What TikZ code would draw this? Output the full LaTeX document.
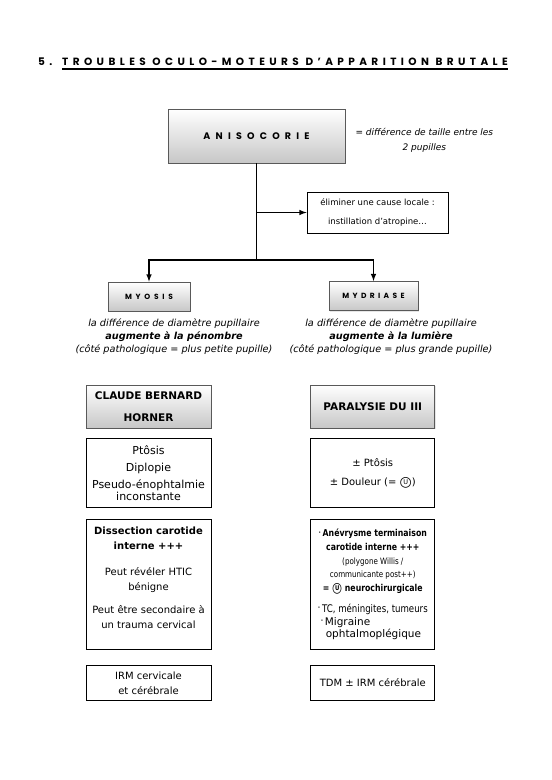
\documentclass[tikz,border=0pt]{standalone}
\usepackage{fontspec}
\setmainfont{DejaVu Sans}
\newfontfamily\capsfont{Poppins}
\newfontfamily\narrowfont[FakeStretch=0.82]{DejaVu Sans}
\usetikzlibrary{positioning,arrows,shadows}
\tikzstyle{gradbox}=[rectangle, draw=black!65, top color=white, bottom color=black!22, line width=0.8pt,
  inner sep=2pt, align=center, drop shadow={opacity=0.2, shadow xshift=1pt, shadow yshift=-1pt}]
\tikzstyle{txtbox}=[rectangle, draw=black, fill=white, line width=0.8pt, inner sep=2pt, align=center,
  minimum width=125pt]
\tikzstyle{notetext}=[align=center, inner sep=0pt, font=\itshape\fontsize{9.7}{13}\selectfont]
\tikzstyle{line}=[-, line width=1.5pt]
\tikzstyle{arrline}=[-latex, line width=1.5pt]
\newcommand\spacedcaps[3]{{\capsfont\bfseries\addfontfeature{LetterSpace=#2}\fontsize{#1}{#1}\selectfont #3}}
% circled U, built from a circle and a letter
\newcommand\urg{{\ooalign{\hfil\raisebox{0.8pt}{\fontsize{6.5}{6.5}\selectfont U}\hfil\cr
  \raisebox{-1.2pt}{\fontsize{14}{14}\selectfont ○}\cr}}}
\newcommand\bul{{\fontsize{5}{5}\selectfont\raisebox{2.5pt}{•}}}

\begin{document}
\begin{tikzpicture}[x=1pt, y=-1pt, node distance=10pt]
  \useasboundingbox (0,0) rectangle (552,780);

  % title
  \node (secnum) [anchor=base west, inner sep=0pt] at (38,65) {\spacedcaps{10.5}{42}{5.}};
  \node (sectitle) [anchor=base west, inner sep=0pt] at (62,65)
    {\spacedcaps{10.5}{42}{TROUBLES OCULO-MOTEURS D’APPARITION BRUTALE}};
  \draw[line width=1.8pt] ([yshift=-3.5pt]sectitle.south west) -- ([yshift=-3.5pt]sectitle.south east);

  \node (aniso) [gradbox, minimum width=177pt, minimum height=54pt] at (256.5,136)
    {\spacedcaps{9.5}{55}{ANISOCORIE}};
  \node (anisonote) [notetext, right=10pt of aniso, yshift=-4.5pt, font=\itshape\fontsize{9}{15}\selectfont]
    {= différence de taille entre les\\2 pupilles};
  \node (elim) [txtbox, minimum width=141pt, minimum height=41pt, font=\fontsize{8.5}{19}\selectfont]
    at (377.5,212.5) {éliminer une cause locale :\\instillation d’atropine…};

  \node (myosis) [gradbox, minimum width=82pt, minimum height=29pt] at (149,296.5)
    {\spacedcaps{7.5}{50}{MYOSIS}};
  \node (mydriase) [gradbox, minimum width=89pt, minimum height=29pt] at (373.5,296)
    {\spacedcaps{7.5}{45}{MYDRIASE}};
  \node (myonote) [notetext] at (174,337)
    {la différence de diamètre pupillaire\\\textbf{augmente à la pénombre}\\(côté pathologique = plus petite pupille)};
  \node (mydnote) [notetext] at (391,337)
    {la différence de diamètre pupillaire\\\textbf{augmente à la lumière}\\(côté pathologique = plus grande pupille)};

  % left column
  \node (horner) [gradbox, minimum width=125pt, minimum height=43pt, font=\bfseries\fontsize{10.5}{22}\selectfont]
    at (148.5,406.5) {CLAUDE BERNARD\\HORNER};
  \node (hornersign) [txtbox, minimum height=69pt, below=10pt of horner, font=\fontsize{11}{12}\selectfont]
    {Ptôsis\\[5pt]Diplopie\\[5pt]Pseudo-énophtalmie\\inconstante};
  \node (dissect) [txtbox, minimum height=130pt, text depth=13pt, below=11pt of hornersign,
    font=\fontsize{10}{15}\selectfont]
    {\textbf{Dissection carotide}\\\textbf{interne +++}\\[11pt]Peut révéler HTIC\\bénigne\\[8pt]
     Peut être secondaire à\\un trauma cervical};
  \node (irm) [txtbox, minimum height=35pt, below=15pt of dissect, font=\fontsize{10}{15}\selectfont]
    {IRM cervicale\\et cérébrale};

  % right column
  \node (third) [gradbox, minimum width=124pt, minimum height=43pt, right=99pt of horner,
    font=\bfseries\fontsize{10.5}{22}\selectfont] {PARALYSIE DU III};
  \node (thirdsign) [txtbox, minimum width=124pt, minimum height=69pt, below=10pt of third,
    font=\fontsize{10}{19}\selectfont] {± Ptôsis\\± Douleur (= \urg)};
  \node (anev) [txtbox, minimum width=124pt, minimum height=130pt, below=11pt of thirdsign,
    font=\narrowfont\fontsize{9.5}{13.7}\selectfont]
    {\bul\,\textbf{Anévrysme terminaison}\\\textbf{carotide interne +++}\\
     {\fontsize{8.7}{13.7}\selectfont (polygone Willis /}\\{\fontsize{8.7}{13.7}\selectfont communicante post++)}\\
     \textbf{= \urg\ neurochirurgicale}\\[7pt]{\fontsize{10.5}{13.7}\selectfont\bul\,TC, méningites, tumeurs}\\[-1pt]
     \makebox[104pt][l]{\bul\,\rmfamily\fontsize{10.5}{12}\selectfont Migraine}\\[-1pt]
     \makebox[104pt][l]{\hspace{5pt}\rmfamily\fontsize{10.5}{12}\selectfont ophtalmoplégique}};
  \node (tdm) [txtbox, minimum width=124pt, minimum height=35pt, below=15pt of anev,
    font=\fontsize{10}{15}\selectfont] {TDM ± IRM cérébrale};

  % connectors
  \coordinate (fork) at (aniso.south |- 0,260);
  \draw[line] (aniso.south) -- (fork);
  \draw[arrline] (aniso.south |- elim.west) -- (elim.west);
  \draw[arrline] (fork) -| (myosis.north);
  \draw[arrline] (fork) -| (mydriase.north);

\end{tikzpicture}
\end{document}
